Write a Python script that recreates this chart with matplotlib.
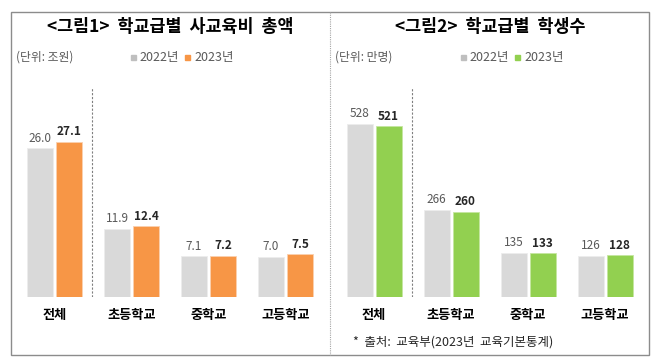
import matplotlib.pyplot as plt
from matplotlib.patches import Rectangle
from matplotlib.lines import Line2D

plt.rcParams['font.family'] = ['Noto Sans CJK KR', 'DejaVu Sans']

# data
categories = ['전체', '초등학교', '중학교', '고등학교']
spend_2022 = [26.0, 11.9, 7.1, 7.0]
spend_2023 = [27.1, 12.4, 7.2, 7.5]
students_2022 = [528, 266, 135, 126]
students_2023 = [521, 260, 133, 128]

W, H = 659, 364
GREY = '#D9D9D9'
ORANGE = '#F79646'
GREEN = '#92D050'

fig = plt.figure(figsize=(W / 100, H / 100), dpi=100)


def fx(x):
    return x / W


def fy(y):
    return 1 - y / H


# outer frame and middle dotted separator
fig.patches.append(Rectangle((fx(11), fy(355)), fx(649) - fx(11), fy(12) - fy(355),
                             transform=fig.transFigure, fill=False,
                             edgecolor='#8C8C8C', linewidth=1.0))
fig.lines.append(Line2D([fx(330), fx(330)], [fy(12), fy(355)], transform=fig.transFigure,
                        color='#A6A6A6', linewidth=0.8, linestyle=(0, (1, 1))))


def draw_panel(left_px, right_px, center0, v22, v23, color, edge, ymax, fmt):
    ax = fig.add_axes([fx(left_px), fy(297), fx(right_px) - fx(left_px), fy(12) - fy(297)])
    xs = range(len(categories))
    w = 26 / 77
    off = 14.5 / 77
    ax.bar([x - off for x in xs], v22, width=w, color=GREY, edgecolor='#EDEDED', linewidth=0.6)
    ax.bar([x + off for x in xs], v23, width=w, color=color, edgecolor=edge, linewidth=0.6)
    for x, a, b in zip(xs, v22, v23):
        ax.text(x - off, a + ymax * 0.012, fmt(a), ha='center', va='bottom', fontsize=8.5, color='#595959')
        ax.text(x + off, b + ymax * 0.012, fmt(b), ha='center', va='bottom', fontsize=8.5,
                fontweight='bold', color='#262626')
    ax.set_xlim((left_px - center0) / 77, (right_px - center0) / 77)
    ax.set_ylim(0, ymax)
    ax.axvline(0.49, ymin=0, ymax=210 / 285, color='#7F7F7F', linewidth=0.8, linestyle=(0, (2, 1.5)))
    ax.set_xticks(list(xs))
    ax.set_xticklabels(categories, fontsize=9.5, fontweight='bold', color='#000000')
    ax.tick_params(axis='x', length=0, pad=8)
    ax.set_yticks([])
    for s in ax.spines.values():
        s.set_visible(False)
    ax.patch.set_alpha(0)
    return ax


draw_panel(11, 330, 54.5, spend_2022, spend_2023, ORANGE, '#FAD0B0', 285 / 5.73, lambda v: f'{v:.1f}')
draw_panel(330, 649, 374, students_2022, students_2023, GREEN, '#C5E6A0', 285 / 0.328, lambda v: f'{v:d}')

# titles
fig.text(fx(170), fy(27), '<그림1>  학교급별  사교육비  총액', ha='center', va='center',
         fontsize=12.5, fontweight='bold')
fig.text(fx(490), fy(27), '<그림2>  학교급별  학생수', ha='center', va='center',
         fontsize=12.5, fontweight='bold')

# units
fig.text(fx(16), fy(57), '(단위: 조원)', ha='left', va='center', fontsize=8.5, color='#595959')
fig.text(fx(335), fy(57), '(단위: 만명)', ha='left', va='center', fontsize=8.5, color='#595959')


def legend(x0, color2):
    fig.patches.append(Rectangle((fx(x0), fy(60)), fx(5), fy(0) - fy(5), transform=fig.transFigure,
                                 color='#BFBFBF'))
    fig.text(fx(x0 + 8), fy(57), '2022년', ha='left', va='center', fontsize=9, color='#595959')
    fig.patches.append(Rectangle((fx(x0 + 54), fy(60)), fx(5), fy(0) - fy(5), transform=fig.transFigure,
                                 color=color2))
    fig.text(fx(x0 + 63), fy(57), '2023년', ha='left', va='center', fontsize=9, color='#595959')


legend(131, ORANGE)
legend(461, GREEN)

# source
fig.text(fx(353), fy(342), '*  출처:  교육부(2023년  교육기본통계)', ha='left', va='center',
         fontsize=9, color='#262626')

fig.savefig('out.png', dpi=100)
